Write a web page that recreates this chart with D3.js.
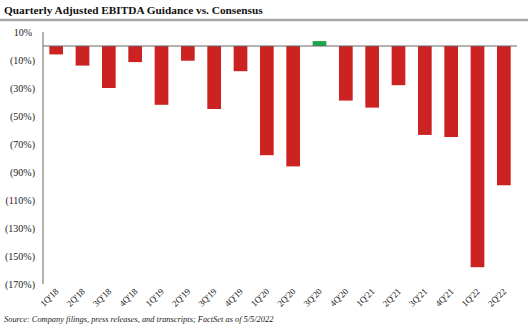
<!DOCTYPE html>
<html><head><meta charset="utf-8">
<script src="https://cdn.jsdelivr.net/npm/d3@7"></script>
<style>body{margin:0;background:#fff}svg{display:block}</style>
</head><body>
<svg id="c" width="528" height="332"></svg>
<script>
const categories = ["1Q'18","2Q'18","3Q'18","4Q'18","1Q'19","2Q'19","3Q'19","4Q'19","1Q'20","2Q'20","3Q'20","4Q'20","1Q'21","2Q'21","3Q'21","4Q'21","1Q'22","2Q'22"];
const values = [-6,-14,-30,-11.5,-42,-10.5,-45,-18,-78,-86,3.5,-39,-44,-28,-63.5,-65,-158,-99.5];
const yTicks = [10,-10,-30,-50,-70,-90,-110,-130,-150,-170];
const title = "Quarterly Adjusted EBITDA Guidance vs. Consensus";
const source = "Source: Company filings, press releases, and transcripts; FactSet as of 5/5/2022";

const svg = d3.select("#c");
const serif = "'Liberation Serif','Times New Roman',serif";
const x = d3.scaleBand().domain(categories).range([43, 517]).paddingInner(0.48).paddingOuter(0.24);
const y = d3.scaleLinear().domain([-170, 10]).range([284, 32]);

svg.append("text").attr("x", 4).attr("y", 14).attr("font-family", serif).attr("font-weight", "bold")
  .attr("font-size", 11.3).attr("fill", "#111").text(title);
svg.append("line").attr("x1", 0).attr("x2", 528).attr("y1", 20).attr("y2", 20)
  .attr("stroke", "#a6a6a6").attr("stroke-width", 2.5);

// y labels
const fmt = v => v < 0 ? "(" + Math.abs(v) + "%)" : v + "%";
svg.append("g").selectAll("text").data(yTicks).join("text")
  .attr("x", d => d < 0 ? 35 : 32).attr("y", d => y(d)).attr("dy", "0.35em")
  .attr("text-anchor", "end").attr("font-family", serif).attr("font-size", 10).attr("fill", "#222")
  .text(fmt);

// y axis line
svg.append("line").attr("x1", 43).attr("x2", 43).attr("y1", y(10)).attr("y2", y(-170))
  .attr("stroke", "#999").attr("stroke-width", 1.5);

// bars
svg.append("g").selectAll("rect").data(values).join("rect")
  .attr("x", (d, i) => x(categories[i])).attr("width", x.bandwidth())
  .attr("y", d => y(Math.max(0, d))).attr("height", d => Math.abs(y(d) - y(0)))
  .attr("fill", d => d >= 0 ? "#1aa64a" : "#cc2222");

// zero line
svg.append("line").attr("x1", 43).attr("x2", 517).attr("y1", y(0)).attr("y2", y(0))
  .attr("stroke", "#666").attr("stroke-width", 1);

// x labels
svg.append("g").selectAll("text").data(categories).join("text")
  .attr("transform", d => `translate(${x(d) + x.bandwidth() / 2 + 3},${292}) rotate(-45)`)
  .attr("text-anchor", "end").attr("font-family", serif).attr("font-size", 9).attr("fill", "#222")
  .text(d => d);

svg.append("text").attr("x", 4).attr("y", 322).attr("font-family", serif).attr("font-style", "italic")
  .attr("font-size", 8.4).attr("fill", "#222").text(source);
</script>
</body></html>
